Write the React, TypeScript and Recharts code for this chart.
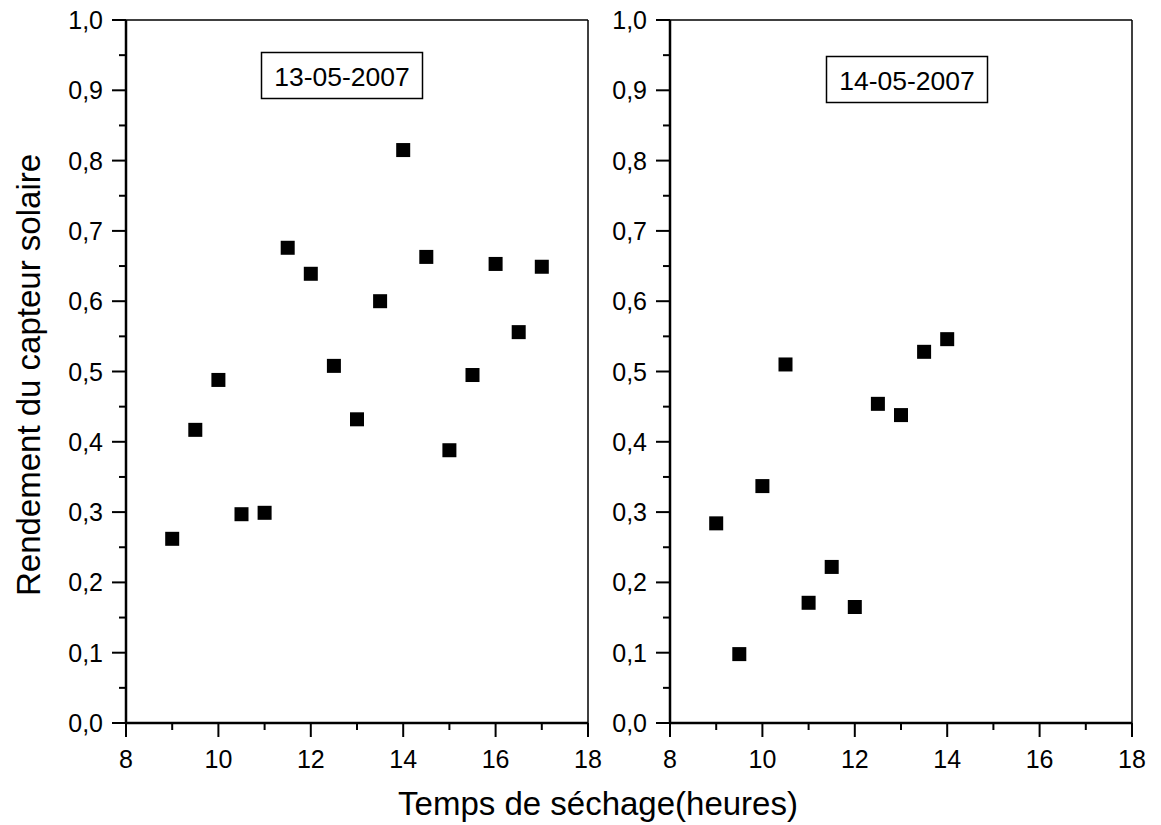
import { Scatter, ScatterChart, XAxis, YAxis, ReferenceLine } from 'recharts';

const FONT = '"Liberation Sans", Arial, sans-serif';

const hours13 = [9, 9.5, 10, 10.5, 11, 11.5, 12, 12.5, 13, 13.5, 14, 14.5, 15, 15.5, 16, 16.5, 17];
const rend13 = [0.262, 0.417, 0.488, 0.297, 0.299, 0.676, 0.639, 0.508, 0.432, 0.6, 0.815, 0.663, 0.388, 0.495, 0.653, 0.556, 0.649];

const hours14 = [9, 9.5, 10, 10.5, 11, 11.5, 12, 12.5, 13, 13.5, 14];
const rend14 = [0.284, 0.098, 0.337, 0.51, 0.171, 0.222, 0.165, 0.454, 0.438, 0.528, 0.546];

const xTicks = [8, 9, 10, 11, 12, 13, 14, 15, 16, 17, 18];
const yTicks = [0, 0.05, 0.1, 0.15, 0.2, 0.25, 0.3, 0.35, 0.4, 0.45, 0.5, 0.55, 0.6, 0.65, 0.7, 0.75, 0.8, 0.85, 0.9, 0.95, 1];

const CHART_W = 616;
const CHART_H = 825;
const Y_W = 126;
const RIGHT = 28;
const TOP = 20;
const X_H = 60;
const BOTTOM = 42;
const PLOT_B = CHART_H - BOTTOM - X_H;

const toRows = (xs: number[], ys: number[]) => xs.map((x, i) => ({ x, y: ys[i] }));

const YTick = (props: any) => {
  const { y, payload } = props;
  const v = payload.value as number;
  const major = Math.round(v * 100) % 10 === 0;
  return (
    <g>
      <line x1={Y_W - (major ? 14 : 7)} x2={Y_W} y1={y} y2={y} stroke="#000" strokeWidth={2} />
      {major && (
        <text x={Y_W - 23} y={y} dy="0.36em" textAnchor="end" fontSize={25} fontFamily={FONT} fill="#000">
          {v.toFixed(1).replace('.', ',')}
        </text>
      )}
    </g>
  );
};

const XTick = (props: any) => {
  const { x, payload } = props;
  const v = payload.value as number;
  const major = v % 2 === 0;
  return (
    <g>
      <line x1={x} x2={x} y1={PLOT_B} y2={PLOT_B + (major ? 14 : 7)} stroke="#000" strokeWidth={2} />
      {major && (
        <text x={x} y={PLOT_B + 27} dy="0.71em" textAnchor="middle" fontSize={25} fontFamily={FONT} fill="#000">
          {v}
        </text>
      )}
    </g>
  );
};

const Square = (props: any) => {
  const { cx, cy } = props;
  return <rect x={cx - 7} y={cy - 7} width={14} height={14} fill="#000" />;
};

function Panel({ data, left }: { data: { x: number; y: number }[]; left: number }) {
  return (
    <div style={{ position: 'absolute', left, top: 0 }}>
      <ScatterChart width={CHART_W} height={CHART_H} margin={{ top: TOP, right: RIGHT, bottom: BOTTOM, left: 0 }}>
        <XAxis
          type="number"
          dataKey="x"
          domain={[8, 18]}
          ticks={xTicks}
          interval={0}
          height={X_H}
          tickLine={false}
          axisLine={{ stroke: '#000', strokeWidth: 2.5 }}
          tick={<XTick />}
        />
        <YAxis
          type="number"
          dataKey="y"
          domain={[0, 1]}
          ticks={yTicks}
          interval={0}
          width={Y_W}
          tickLine={false}
          axisLine={{ stroke: '#000', strokeWidth: 2.5 }}
          tick={<YTick />}
        />
        <ReferenceLine y={1} stroke="#000" strokeWidth={1.5} />
        <ReferenceLine x={18} stroke="#000" strokeWidth={1.5} />
        <Scatter data={data} shape={<Square />} isAnimationActive={false} />
      </ScatterChart>
    </div>
  );
}

export default function App() {
  return (
    <div style={{ position: 'absolute', left: 0, top: 0, width: 1161, height: 825, background: '#fff', fontFamily: FONT, overflow: 'hidden' }}>
      <Panel data={toRows(hours13, rend13)} left={0} />
      <Panel data={toRows(hours14, rend14)} left={544} />
      <svg width={1161} height={825} style={{ position: 'absolute', left: 0, top: 0, pointerEvents: 'none' }}>
        <rect x={261.5} y={52.5} width={161} height={46} fill="#fff" stroke="#000" strokeWidth={1.5} />
        <text x={342} y={76} dy="0.36em" textAnchor="middle" fontSize={26.5} fontFamily={FONT} fill="#000">
          13-05-2007
        </text>
        <rect x={826.5} y={56.5} width={161} height={46} fill="#fff" stroke="#000" strokeWidth={1.5} />
        <text x={907} y={80} dy="0.36em" textAnchor="middle" fontSize={26.5} fontFamily={FONT} fill="#000">
          14-05-2007
        </text>
        <text x={598} y={815} textAnchor="middle" fontSize={33} fontFamily={FONT} fill="#000">
          Temps de séchage(heures)
        </text>
        <text
          x={0}
          y={0}
          transform="translate(40 375) rotate(-90)"
          textAnchor="middle"
          fontSize={33}
          fontFamily={FONT}
          fill="#000"
        >
          Rendement du capteur solaire
        </text>
      </svg>
    </div>
  );
}
